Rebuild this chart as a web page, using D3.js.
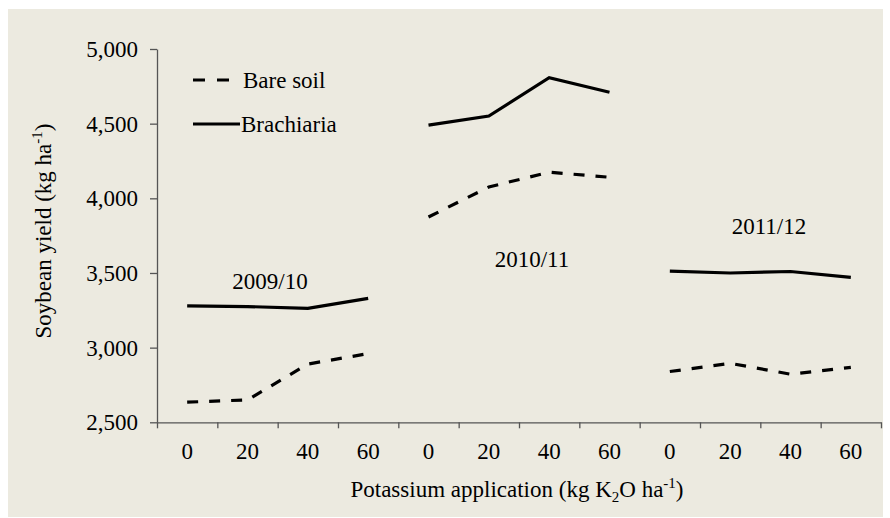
<!DOCTYPE html>
<html>
<head>
<meta charset="utf-8">
<script src="https://cdn.jsdelivr.net/npm/d3@7"></script>
<style>
  body { margin: 0; background: #fff; font-family: 'Liberation Serif', 'Times New Roman', serif; }
  svg text { font-family: 'Liberation Serif', 'Times New Roman', serif !important; }
</style>
</head>
<body>
<svg id="t" width="890" height="518" style="font-family: 'Liberation Serif', 'Times New Roman', serif"></svg>
<script>
// datos
const seasons = ["2009/10", "2010/11", "2011/12"];
const rates = ["0", "20", "40", "60"];
const bareSoil = [
  [2635, 2650, 2890, 2960],
  [3875, 4076, 4175, 4141],
  [2840, 2895, 2822, 2868]
];
const brachiaria = [
  [3280, 3275, 3263, 3330],
  [4490, 4551, 4808, 4710],
  [3512, 3500, 3510, 3471]
];
const yTicks = [2500, 3000, 3500, 4000, 4500, 5000];

const plotLeft = 157, plotRight = 881, plotTop = 49, plotBottom = 422.3;
const fontFam = "'Liberation Serif', 'Times New Roman', serif";
const fs = 23;

const svg = d3.select("#t");

// fondo
svg.append("rect")
    .attr("x", 8).attr("y", 9)
    .attr("width", 875).attr("height", 508)
    .attr("fill", "#ECEAE0");

// una categoría por cada combinación temporada / dosis
const cats = seasons.flatMap((s, i) => rates.map(r => i + "-" + r));

const x = d3.scaleBand().domain(cats).range([plotLeft, plotRight]);
const xEdge = d3.scaleLinear().domain([0, cats.length]).range([plotLeft, plotRight]);
const y = d3.scaleLinear().domain([2500, 5000]).range([plotBottom, plotTop]);

const axisColor = "#555";

// eje Y
const gy = svg.append("g")
    .attr("transform", `translate(${plotLeft},0)`)
    .call(d3.axisLeft(y).tickValues(yTicks).tickFormat(d3.format(",")).tickSize(7).tickPadding(12).tickSizeOuter(0));
gy.attr("font-family", null).attr("font-size", null);
gy.select(".domain").attr("stroke", axisColor).attr("stroke-width", 1.3);
gy.selectAll(".tick line").attr("stroke", axisColor).attr("stroke-width", 1.3);

// eje X: marcas en los bordes
const gx = svg.append("g")
    .attr("transform", `translate(0,${plotBottom})`)
    .call(d3.axisBottom(xEdge).tickValues(d3.range(cats.length + 1)).tickFormat("").tickSize(6).tickSizeOuter(0));
gx.select(".domain").attr("stroke", axisColor).attr("stroke-width", 1.3);
gx.selectAll(".tick line").attr("stroke", axisColor).attr("stroke-width", 1.3);
gx.selectAll(".tick text").remove();

// etiquetas X centradas
const gxl = svg.append("g")
    .attr("transform", `translate(0,${plotBottom})`)
    .call(d3.axisBottom(x).tickSize(0).tickPadding(20).tickFormat(d => d.split("-")[1]));
gxl.attr("font-family", null).attr("font-size", null);
gxl.select(".domain").remove();

// líneas
const line = d3.line()
    .x(d => x.bandwidth() / 2 + x(d.cat))
    .y(d => y(d.value));

function drawSeries(values, dashed) {
  values.forEach((row, i) => {
    const pts = row.map((v, j) => ({ cat: i + "-" + rates[j], value: v }));
    svg.append("path")
        .datum(pts)
        .attr("fill", "none")
        .attr("stroke", "#000")
        .attr("stroke-width", 3.2)
        .attr("stroke-dasharray", dashed ? "11,11" : null)
        .attr("d", line);
  });
}
drawSeries(bareSoil, true);
drawSeries(brachiaria, false);

// etiquetas de temporada
const seasonPos = [[270, 289], [532, 267], [769, 234]];
svg.selectAll(".season")
    .data(seasons)
    .join("text")
    .attr("class", "season")
    .attr("x", (d, i) => seasonPos[i][0])
    .attr("y", (d, i) => seasonPos[i][1])
    .attr("text-anchor", "middle")
    .text(d => d);

// leyenda
svg.append("line")
    .attr("x1", 193).attr("x2", 230).attr("y1", 80).attr("y2", 80)
    .attr("stroke", "#000").attr("stroke-width", 3.2).attr("stroke-dasharray", "12,12");
svg.append("text").attr("x", 243).attr("y", 88).text("Bare soil");
svg.append("line")
    .attr("x1", 193).attr("x2", 240).attr("y1", 124).attr("y2", 124)
    .attr("stroke", "#000").attr("stroke-width", 3.2);
svg.append("text").attr("x", 241).attr("y", 132).text("Brachiaria");

// título eje X
const xt = svg.append("text")
    .attr("x", 517).attr("y", 497)
    .attr("text-anchor", "middle");
xt.append("tspan").text("Potassium application (kg K");
xt.append("tspan").style("font-size", "15px").attr("dy", 5).text("2");
xt.append("tspan").attr("dy", -5).text("O ha");
xt.append("tspan").style("font-size", "15px").attr("dy", -9).text("-1");
xt.append("tspan").attr("dy", 9).text(")");

// título eje Y
const yt = svg.append("text")
    .attr("transform", "translate(51,231) rotate(-90)")
    .attr("text-anchor", "middle");
yt.append("tspan").text("Soybean yield (kg ha");
yt.append("tspan").style("font-size", "15px").attr("dy", -9).text("-1");
yt.append("tspan").attr("dy", 9).text(")");

// fuente serif para todos los textos
svg.selectAll("text")
    .style("font-family", fontFam)
    .style("font-size", fs + "px")
    .style("fill", "#000");
</script>
</body>
</html>
